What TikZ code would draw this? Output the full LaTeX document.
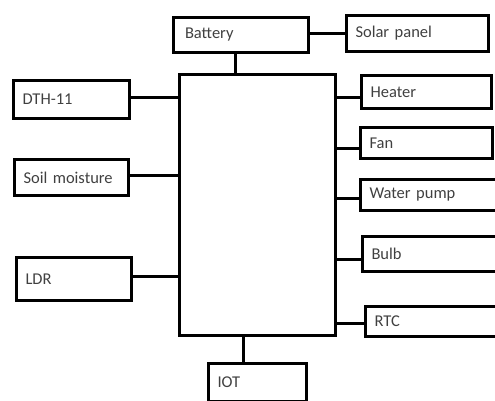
\documentclass[tikz,border=0pt]{standalone}
\usepackage{fontspec}
\setmainfont{Carlito}
\definecolor{txt}{HTML}{404040}
\tikzset{
  blk/.style={draw=black, line width=3.6pt, inner xsep=9pt, inner ysep=0pt,
    align=left, font=\fontsize{16.5}{18}\selectfont, text=txt},
  wire/.style={draw=black, line width=3pt}
}
\begin{document}
\begin{tikzpicture}[x=1pt,y=-1pt]
\useasboundingbox (0,0) rectangle (495,400);
\node[blk, minimum width=135pt, minimum height=35pt, text width=135pt-23pt, inner xsep=11.5pt] (battery) at (241,35) {Battery};
\node[blk, minimum width=142pt, minimum height=36pt, text width=142pt-18pt] (solar) at (417.5,33.5) {Solar panel};
\node[blk, minimum width=156pt, minimum height=261pt] (main) at (257.5,205) {};
\node[blk, minimum width=116pt, minimum height=38pt, text width=116pt-18pt] (dth) at (71.5,99.5) {DTH-11};
\node[blk, minimum width=114pt, minimum height=36pt, text width=114pt-18pt] (soil) at (71.5,177.5) {Soil moisture};
\node[blk, minimum width=115pt, minimum height=43pt, text width=115pt-18pt] (ldr) at (74,279) {LDR};
\node[blk, minimum width=130pt, minimum height=33pt, text width=130pt-18pt] (heater) at (426.5,92) {Heater};
\node[blk, minimum width=132pt, minimum height=31pt, text width=132pt-18pt] (fan) at (426.5,143) {Fan};
\node[blk, minimum width=136pt, minimum height=31pt, text width=136pt-18pt] (pump) at (428.5,195) {Water pump};
\node[blk, minimum width=134pt, minimum height=35pt, text width=134pt-18pt] (bulb) at (429.5,254) {Bulb};
\node[blk, minimum width=131pt, minimum height=30pt, text width=131pt-18pt] (rtc) at (431,321.5) {RTC};
\node[blk, minimum width=98pt, minimum height=38pt, text width=98pt-18pt, inner xsep=7pt] (iot) at (257.5,382.5) {IOT};
% connectors
\draw[wire] ([xshift=-6pt]battery.south) -- ([xshift=-6pt]battery.south |- main.north);
\draw[wire] (solar.west -| battery.east) -- (solar.west);
\draw[wire] ([yshift=2.5pt]dth.east) -- ([yshift=2.5pt]dth.east -| main.west);
\draw[wire] ([yshift=2.5pt]soil.east) -- ([yshift=2.5pt]soil.east -| main.west);
\draw[wire] ([yshift=3pt]ldr.east) -- ([yshift=3pt]ldr.east -| main.west);
\draw[wire] ([yshift=-5pt]heater.west -| main.east) -- ([yshift=-5pt]heater.west);
\draw[wire] ([yshift=-5pt]fan.west -| main.east) -- ([yshift=-5pt]fan.west);
\draw[wire] ([yshift=-3pt]pump.west -| main.east) -- ([yshift=-3pt]pump.west);
\draw[wire] ([yshift=-5pt]bulb.west -| main.east) -- ([yshift=-5pt]bulb.west);
\draw[wire] ([yshift=-1.5pt]rtc.west -| main.east) -- ([yshift=-1.5pt]rtc.west);
\draw[wire] ([xshift=-14.5pt]iot.north) -- ([xshift=-14.5pt]iot.north |- main.south);
\end{tikzpicture}
\end{document}
